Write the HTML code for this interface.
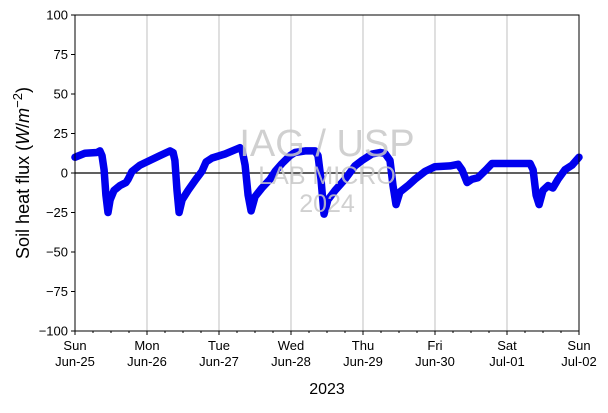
<!DOCTYPE html>
<html><head><meta charset="utf-8"><style>
body{margin:0;background:#fff}
svg{font-family:"Liberation Sans","DejaVu Sans",sans-serif}
</style></head><body>
<svg id="c" width="608" height="408" xmlns="http://www.w3.org/2000/svg"></svg>
<script>
const hours=[0,3.3,7.3,8.3,9,9.7,10.3,11,11.7,13,15,17,17.7,19,21.7,25,28.3,31.7,32.7,33.3,34,34.7,35.7,37.7,40.3,42.3,43.7,45.7,50,55,55.7,56.7,57.7,58.7,60,62.3,65,66.7,69,71.7,73.3,76.7,80,81,82,83,84.3,86.7,90,93.3,95.7,99,101.7,103.3,105,106,107,108.3,111,113.3,116.7,120,125,127.7,129,130.7,132.3,134.3,137,139,141.7,145.7,151.7,152.7,153.7,154.7,156,157.7,159.3,161,163.3,165.7,168];
const flux=[10,12.5,13,14,11,2,-14,-25,-17,-11,-8,-6,-4,1,5,8,11,14,13,8,-11,-25,-17,-11,-4,1,7,9.5,12,16,14.5,5,-14,-24,-15,-9.5,-4,1,6,11,13,14,14,11,-4,-26,-17,-11,-4,4.5,8,12,13,12.5,8,-8,-20,-12,-8,-4,1,4,4.5,5.5,2,-6,-4,-3,2,6,6,6,6,2,-14,-20,-11,-8,-9.5,-4,2,5,10];
const yTicks=[-100,-75,-50,-25,0,25,50,75,100];
const dayLabels=[["Sun","Jun-25"],["Mon","Jun-26"],["Tue","Jun-27"],["Wed","Jun-28"],["Thu","Jun-29"],["Fri","Jun-30"],["Sat","Jul-01"],["Sun","Jul-02"]];
const L=75,R=579,T=15,B=331;
const X=h=>L+(R-L)*h/168, Y=v=>B-(B-T)*(v+100)/200;
const svg=document.getElementById('c');const NS="http://www.w3.org/2000/svg";
function mk(t,a,txt){const e=document.createElementNS(NS,t);for(const k in a)e.setAttribute(k,a[k]);if(txt!=null)e.textContent=txt;svg.appendChild(e);return e;}
for(let d=1;d<7;d++){const g=mk('line',{x1:X(d*24),x2:X(d*24),y1:T,y2:B,stroke:'#b0b0b0','stroke-width':0.8});

}
const z=mk('line',{x1:L,x2:R,y1:Y(0),y2:Y(0),stroke:'#000','stroke-width':1.2});


const pts=hours.map((h,i)=>X(h).toFixed(1)+','+Y(flux[i]).toFixed(1)).join(' ');
const s=mk('polyline',{points:pts,fill:'none',stroke:'#0000ee','stroke-width':7.5,'stroke-linejoin':'round','stroke-linecap':'round'});


const w1=mk('text',{x:327,y:156,'font-size':38,fill:'#c8c8c8','text-anchor':'middle','fill-opacity':0.85},'IAG / USP');


const w2=mk('text',{x:327,y:184,'font-size':25,fill:'#c8c8c8','text-anchor':'middle','fill-opacity':0.85},'LAB MICRO');


const w3=mk('text',{x:327,y:212,'font-size':25,fill:'#c8c8c8','text-anchor':'middle','fill-opacity':0.85},'2024');


const f=mk('rect',{x:L,y:T,width:R-L,height:B-T,fill:'none',stroke:'#000','stroke-width':1});


yTicks.forEach(v=>{mk('line',{x1:L-4,x2:L,y1:Y(v),y2:Y(v),stroke:'#000'});
const t=mk('text',{x:L-7,y:Y(v)+4.5,'font-size':13,'text-anchor':'end'},v==0?'0':(v<0?'\u2212'+(-v):v));

});
for(let h=0;h<=168;h+=6){const maj=h%24==0;mk('line',{x1:X(h),x2:X(h),y1:B,y2:B+(maj?4:2),stroke:'#000'});}
dayLabels.forEach((d,i)=>{const t=mk('text',{x:X(i*24),y:B+19,'font-size':13,'text-anchor':'middle'},d[0]);


const t2=mk('text',{x:X(i*24),y:B+35,'font-size':13,'text-anchor':'middle'},d[1]);

});
const xl=mk('text',{x:327,y:394,'font-size':16,'text-anchor':'middle'},'2023');


const yl=mk('text',{x:0,y:0,'font-size':18,'text-anchor':'middle',transform:'translate(29,173) rotate(-90)'});
yl.innerHTML='Soil heat flux (<tspan font-style="italic">W</tspan>/<tspan font-style="italic">m</tspan><tspan font-size="13" dy="-7">−2</tspan><tspan dy="7">)</tspan>';


</script>
</body></html>
